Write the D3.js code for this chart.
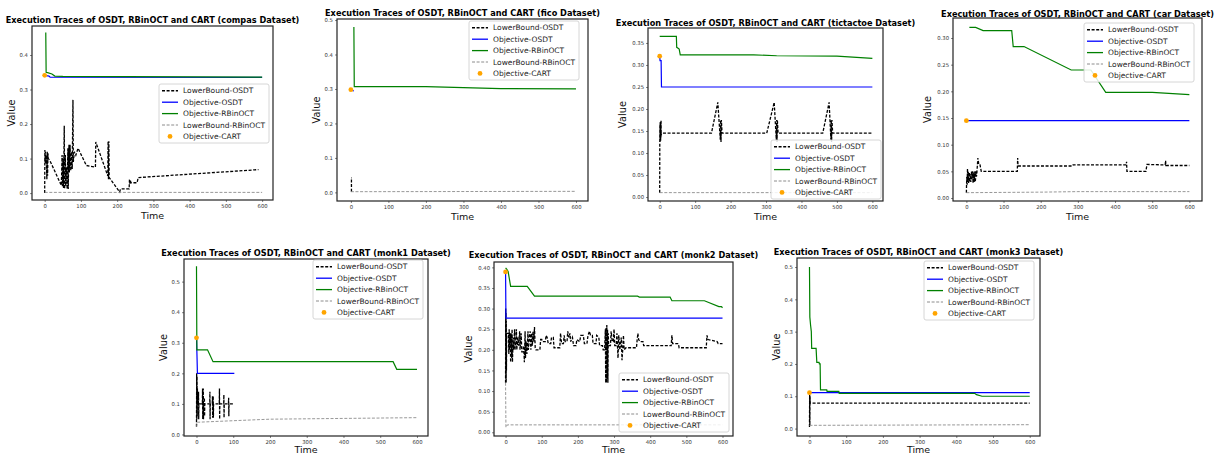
<!DOCTYPE html>
<html>
<head>
<meta charset="utf-8">
<script src="https://cdn.jsdelivr.net/npm/d3@7"></script>
<style>
  body { margin: 0; background: #fff; }
  svg { display: block; font-family: "DejaVu Sans", sans-serif; }
</style>
</head>
<body>
<svg width="1220" height="455"></svg>
<script>
const xTicks = [0, 100, 200, 300, 400, 500, 600];
const seriesNames = ['LowerBound-OSDT', 'Objective-OSDT', 'Objective-RBinOCT', 'LowerBound-RBinOCT', 'Objective-CART'];

// compas
const compasLbOsdt = [[0,0],[0.5,0.125],[1,0.09],[2,0.12],[3,0.085],[4,0.11],[6,0.04],[7,0.12],[8,0.05],[9,0.115],[10,0.1],[14,0.095],[46,0.022],[48,0.11],[49,0.02],[51,0.1],[52,0.015],[54,0.195],[55,0.012],[57,0.11],[58,0.02],[60,0.075],[62,0.012],[64,0.13],[65,0.012],[67,0.14],[68,0.06],[70,0.14],[72,0.065],[74,0.12],[76,0.07],[78,0.27],[79,0.09],[82,0.12],[86,0.11],[92,0.13],[115,0.08],[140,0.075],[141,0.148],[174,0.05],[175,0.15],[176,0.04],[177,0.15],[178,0.045],[207,0.003],[209,0.012],[233,0.012],[234,0.04],[235,0.025],[236,0.038],[238,0.03],[255,0.03],[258,0.045],[590,0.068]];
const compasObjOsdt = [[0,0.342],[5,0.34],[12,0.339],[15,0.336],[600,0.335]];
const compasObjRbin = [[3,0.465],[4,0.35],[8,0.349],[20,0.345],[28,0.339],[50,0.338],[600,0.336]];
const compasLbRbin = [[0,0.002],[600,0.002]];
const compasCart = [[0,0.341]];

// fico
const ficoLbOsdt = [[1.5,0.002],[1.5,0.042],[3,0.042]];
const ficoObjOsdt = [[0,0.297],[8,0.294]];
const ficoObjRbin = [[8,0.48],[9,0.307],[200,0.307],[400,0.301],[600,0.3]];
const ficoLbRbin = [[0,0.002],[600,0.003]];
const ficoCart = [[0,0.298]];

// tictactoe
const tttLbOsdt = [[0,0.01],[0.3,0.13],[0.6,0.165],[1,0.125],[1.4,0.17],[1.8,0.13],[2.2,0.172],[2.6,0.128],[3,0.168],[3.4,0.135],[3.8,0.175],[4.2,0.14],[5,0.145],[146,0.145],[164,0.215],[171,0.13],[172,0.175],[173,0.125],[174,0.175],[176,0.145],[302,0.145],[323,0.215],[329,0.13],[330,0.175],[331,0.125],[332,0.175],[334,0.145],[460,0.145],[478,0.215],[483,0.13],[484,0.175],[485,0.125],[486,0.175],[488,0.145],[600,0.145]];
const tttObjOsdt = [[0,0.32],[1,0.31],[4,0.31],[5,0.25],[600,0.25]];
const tttObjRbin = [[0,0.365],[47,0.365],[48,0.34],[52,0.338],[55,0.336],[58,0.323],[265,0.323],[330,0.321],[500,0.32],[600,0.315]];
const tttLbRbin = [[0,0.01],[600,0.01]];
const tttCart = [[0,0.32]];

// car
const carLbOsdt = [[0,0.01],[1,0.04],[2,0.025],[3,0.055],[4,0.03],[5,0.05],[6,0.028],[8,0.048],[9,0.03],[10,0.045],[12,0.03],[14,0.05],[15,0.035],[17,0.05],[18,0.028],[20,0.048],[21,0.03],[23,0.05],[24,0.03],[26,0.05],[27,0.04],[28,0.045],[31,0.075],[33,0.065],[36,0.065],[40,0.05],[137,0.05],[138,0.075],[139,0.06],[285,0.06],[287,0.062],[430,0.062],[431,0.068],[432,0.05],[483,0.05],[486,0.063],[535,0.062],[536,0.07],[537,0.061],[600,0.061]];
const carObjOsdt = [[0,0.145],[600,0.145]];
const carObjRbin = [[8,0.32],[25,0.32],[45,0.314],[122,0.314],[126,0.284],[155,0.284],[282,0.24],[335,0.24],[375,0.198],[500,0.198],[600,0.194]];
const carLbRbin = [[0,0.01],[200,0.011],[300,0.012],[600,0.012]];
const carCart = [[0,0.145]];

// monk1
const monk1LbOsdt = [[0,0.025],[0.5,0.2],[1,0.05],[1.5,0.19],[2,0.06],[2.5,0.15],[3,0.1],[5,0.1],[5.5,0.14],[6,0.05],[6.5,0.1],[16,0.1],[16.5,0.15],[17,0.05],[17.5,0.1],[18,0.1],[18.5,0.15],[19,0.05],[19.5,0.1],[21,0.1],[21.5,0.12],[22,0.06],[22.5,0.1],[36,0.1],[36.5,0.14],[37,0.05],[37.5,0.1],[43,0.1],[43.5,0.125],[44,0.055],[44.5,0.1],[45,0.1],[45.5,0.125],[46,0.055],[46.5,0.1],[62,0.1],[62.5,0.15],[63,0.05],[63.5,0.1],[74,0.1],[74.5,0.13],[75,0.055],[75.5,0.1],[87,0.1],[87.5,0.12],[88,0.06],[88.5,0.1],[100,0.1]];
const monk1ObjOsdt = [[0,0.32],[1.5,0.25],[2.5,0.2],[103,0.2]];
const monk1ObjRbin = [[0,0.55],[1,0.277],[30,0.277],[45,0.238],[535,0.238],[545,0.213],[600,0.213]];
const monk1LbRbin = [[0,0.025],[2,0.04],[100,0.045],[200,0.05],[600,0.055]];
const monk1Cart = [[0,0.316]];

// monk2
const monk2LbOsdt = [[0,0.12],[0.4,0.3],[0.8,0.13],[1.2,0.29],[1.6,0.12],[2,0.27],[2.4,0.15],[3,0.24],[8,0.24],[9,0.19],[10,0.25],[11,0.2],[13,0.24],[14,0.17],[15,0.24],[17,0.18],[18,0.25],[19,0.17],[21,0.23],[22,0.2],[25,0.25],[26,0.2],[28,0.22],[30,0.25],[31,0.2],[34,0.23],[36,0.21],[39,0.245],[40,0.2],[43,0.24],[45,0.195],[48,0.195],[50,0.21],[52,0.17],[54,0.245],[55,0.18],[57,0.22],[59,0.19],[62,0.245],[63,0.2],[66,0.23],[68,0.245],[70,0.2],[72,0.24],[74,0.21],[76,0.245],[78,0.22],[80,0.255],[82,0.205],[84,0.2],[95,0.2],[97,0.225],[100,0.225],[102,0.22],[110,0.22],[112,0.235],[115,0.23],[118,0.215],[125,0.215],[127,0.23],[132,0.23],[134,0.205],[150,0.205],[152,0.24],[155,0.215],[160,0.215],[162,0.235],[165,0.22],[170,0.22],[172,0.245],[175,0.23],[178,0.24],[180,0.22],[185,0.23],[188,0.21],[195,0.21],[197,0.225],[205,0.22],[208,0.235],[215,0.235],[218,0.215],[225,0.215],[228,0.235],[232,0.245],[235,0.235],[240,0.235],[242,0.215],[250,0.215],[252,0.235],[258,0.23],[260,0.21],[268,0.21],[270,0.2],[274,0.2],[276,0.25],[277,0.12],[278,0.255],[279,0.12],[280,0.26],[281,0.13],[282,0.25],[283,0.12],[284,0.24],[285,0.21],[290,0.21],[292,0.245],[295,0.22],[298,0.22],[300,0.25],[302,0.21],[306,0.21],[308,0.24],[311,0.18],[313,0.235],[316,0.2],[320,0.23],[322,0.175],[324,0.2],[326,0.235],[328,0.2],[333,0.205],[362,0.205],[364,0.225],[366,0.24],[368,0.225],[372,0.22],[380,0.22],[382,0.21],[458,0.21],[460,0.235],[462,0.215],[478,0.215],[480,0.205],[555,0.205],[557,0.235],[560,0.225],[585,0.22],[588,0.215],[600,0.215]];
const monk2ObjOsdt = [[0,0.39],[1,0.277],[600,0.277]];
const monk2ObjRbin = [[0,0.399],[3,0.396],[7,0.39],[14,0.354],[60,0.354],[80,0.33],[365,0.33],[370,0.328],[455,0.328],[460,0.319],[550,0.319],[590,0.305],[597,0.305],[600,0.302]];
const monk2LbRbin = [[0,0.12],[1,0.012],[5,0.018],[600,0.018]];
const monk2Cart = [[0,0.389]];

// monk3
const monk3LbOsdt = [[0,0.005],[0.5,0.105],[1,0.01],[1.5,0.1],[2,0.079],[600,0.079]];
const monk3ObjOsdt = [[0,0.111],[600,0.111]];
const monk3ObjRbin = [[0,0.5],[1,0.345],[3,0.32],[5,0.3],[6,0.248],[18,0.248],[20,0.205],[26,0.205],[27,0.2],[29,0.2],[30,0.12],[47,0.12],[48,0.115],[80,0.115],[81,0.109],[450,0.109],[455,0.105],[470,0.1],[600,0.1]];
const monk3LbRbin = [[0,0.01],[600,0.012]];
const monk3Cart = [[0,0.111]];

const yTicks1 = [0, 0.1, 0.2, 0.3, 0.4, 0.5];
const yTicks2 = [0, 0.05, 0.1, 0.15, 0.2, 0.25, 0.3, 0.35, 0.4];

// box = [left, top, right, bottom]
const panels = [
  { name: 'compas', box: [32, 26, 273, 200], xd: [-35, 630], yd: [-0.020, 0.484], ticks: yTicks1.slice(0, 5), fmt: '.1f', titleY: 22.5, legend: [159, 84],
    data: [compasLbOsdt, compasObjOsdt, compasObjRbin, compasLbRbin, compasCart] },
  { name: 'fico', box: [337, 19, 588, 201], xd: [-37, 632], yd: [-0.025, 0.503], ticks: yTicks1, fmt: '.1f', titleY: 15.5, legend: [469, 21],
    data: [ficoLbOsdt, ficoObjOsdt, ficoObjRbin, ficoLbRbin, ficoCart] },
  { name: 'tictactoe', box: [648, 28, 883, 201], xd: [-33, 630], yd: [-0.009, 0.384], ticks: yTicks2.slice(0, 8), fmt: '.2f', titleY: 25.5, legend: [771, 140],
    data: [tttLbOsdt, tttObjOsdt, tttObjRbin, tttLbRbin, tttCart] },
  { name: 'car', box: [953, 18, 1202, 201], xd: [-36, 634], yd: [-0.0056, 0.3375], ticks: yTicks2.slice(0, 7), fmt: '.2f', titleY: 16.5, legend: [1084, 23],
    data: [carLbOsdt, carObjOsdt, carObjRbin, carLbRbin, carCart] },
  { name: 'monk1', box: [184, 259, 428, 436], xd: [-34, 630], yd: [-0.005, 0.574], ticks: yTicks1, fmt: '.1f', titleY: 255.5, legend: [313, 260],
    data: [monk1LbOsdt, monk1ObjOsdt, monk1ObjRbin, monk1LbRbin, monk1Cart] },
  { name: 'monk2', box: [494, 262, 733, 436], xd: [-32, 629], yd: [-0.009, 0.413], ticks: yTicks2, fmt: '.2f', titleY: 258, legend: [619, 373],
    data: [monk2LbOsdt, monk2ObjOsdt, monk2ObjRbin, monk2LbRbin, monk2Cart] },
  { name: 'monk3', box: [797, 258, 1040, 436], xd: [-34, 628], yd: [-0.023, 0.528], ticks: yTicks1, fmt: '.1f', titleY: 254.5, legend: [924, 261],
    data: [monk3LbOsdt, monk3ObjOsdt, monk3ObjRbin, monk3LbRbin, monk3Cart] }
];

const styles = [
  { stroke: '#000', width: 1.3, dash: '3,1.6' },
  { stroke: '#0000ff', width: 1.2, dash: null },
  { stroke: '#008000', width: 1.2, dash: null },
  { stroke: '#8c8c8c', width: 0.9, dash: '3,1.6' },
  { stroke: 'orange', dot: true }
];

const svg = d3.select('svg');

const drawPanel = (p, idx) => {
  const [l, t, r, b] = p.box;
  const x = d3.scaleLinear().domain(p.xd).range([l, r]);
  const y = d3.scaleLinear().domain(p.yd).range([b, t]);
  const g = svg.append('g');

  g.append('clipPath').attr('id', 'clip' + idx)
    .append('rect').attr('x', l).attr('y', t).attr('width', r - l).attr('height', b - t);

  const plot = g.append('g').attr('clip-path', `url(#clip${idx})`);
  const line = d3.line().x(d => x(d[0])).y(d => y(d[1]));

  p.data.forEach((series, i) => {
    const s = styles[i];
    if (s.dot) {
      plot.selectAll('circle.cart').data(series)
        .enter().append('circle')
        .attr('cx', d => x(d[0]))
        .attr('cy', d => y(d[1]))
        .attr('r', 2.4)
        .attr('fill', s.stroke);
    } else {
      plot.append('path')
        .datum(series)
        .attr('d', line)
        .attr('fill', 'none')
        .attr('stroke', s.stroke)
        .attr('stroke-width', s.width)
        .attr('stroke-dasharray', s.dash);
    }
  });

  // axes
  const xAxis = d3.axisBottom(x).tickValues(xTicks).tickSize(2).tickPadding(2);
  const yAxis = d3.axisLeft(y).tickValues(p.ticks).tickSize(2).tickPadding(2).tickFormat(d3.format(p.fmt));
  const xg = g.append('g').attr('transform', `translate(0,${b})`).call(xAxis);
  const yg = g.append('g').attr('transform', `translate(${l},0)`).call(yAxis);
  [xg, yg].forEach(a => {
    a.select('.domain').remove();
    a.selectAll('.tick line').attr('stroke', '#333').attr('stroke-width', 0.6);
    a.selectAll('.tick text').attr('font-size', '5.3px').attr('fill', '#333')
      .attr('font-family', '"DejaVu Sans", sans-serif');
  });

  g.append('rect')
    .attr('x', l).attr('y', t).attr('width', r - l).attr('height', b - t)
    .attr('fill', 'none').attr('stroke', '#222').attr('stroke-width', 1.2);

  // labels
  const timeY = b > 300 ? 453 : b + 19;
  g.append('text')
    .attr('x', (l + r) / 2).attr('y', timeY)
    .attr('text-anchor', 'middle').attr('font-size', '9.5px').attr('fill', '#111')
    .text('Time');

  const yOff = p.fmt === '.2f' ? 25 : 20.5;
  g.append('text')
    .attr('transform', `translate(${l - yOff},${(t + b) / 2}) rotate(-90)`)
    .attr('text-anchor', 'middle').attr('dy', '0.35em')
    .attr('font-size', '9.8px').attr('fill', '#111')
    .text('Value');

  g.append('text')
    .attr('x', (l + r) / 2).attr('y', p.titleY)
    .attr('text-anchor', 'middle').attr('font-size', '8.2px').attr('font-weight', 'bold')
    .text(`Execution Traces of OSDT, RBinOCT and CART (${p.name} Dataset)`);

  // legend
  const [lx, ly] = p.legend;
  const lg = g.append('g').attr('transform', `translate(${lx},${ly})`);
  lg.append('rect')
    .attr('width', 110).attr('height', 59).attr('rx', 2)
    .attr('fill', 'rgba(255,255,255,0.85)').attr('stroke', '#ccc').attr('stroke-width', 0.8);
  seriesNames.forEach((name, i) => {
    const s = styles[i];
    const cy = 6.8 + i * 11.4;
    if (s.dot) {
      lg.append('circle').attr('cx', 11).attr('cy', cy).attr('r', 2.4).attr('fill', s.stroke);
    } else {
      lg.append('line').attr('x1', 3).attr('x2', 19).attr('y1', cy).attr('y2', cy)
        .attr('stroke', s.stroke).attr('stroke-width', s.width + 0.1)
        .attr('stroke-dasharray', s.dash);
    }
    lg.append('text').attr('x', 24).attr('y', cy).attr('dy', '0.35em')
      .attr('font-size', '7.5px').attr('fill', '#222').text(name);
  });
};

panels.forEach(drawPanel);
</script>
</body>
</html>
